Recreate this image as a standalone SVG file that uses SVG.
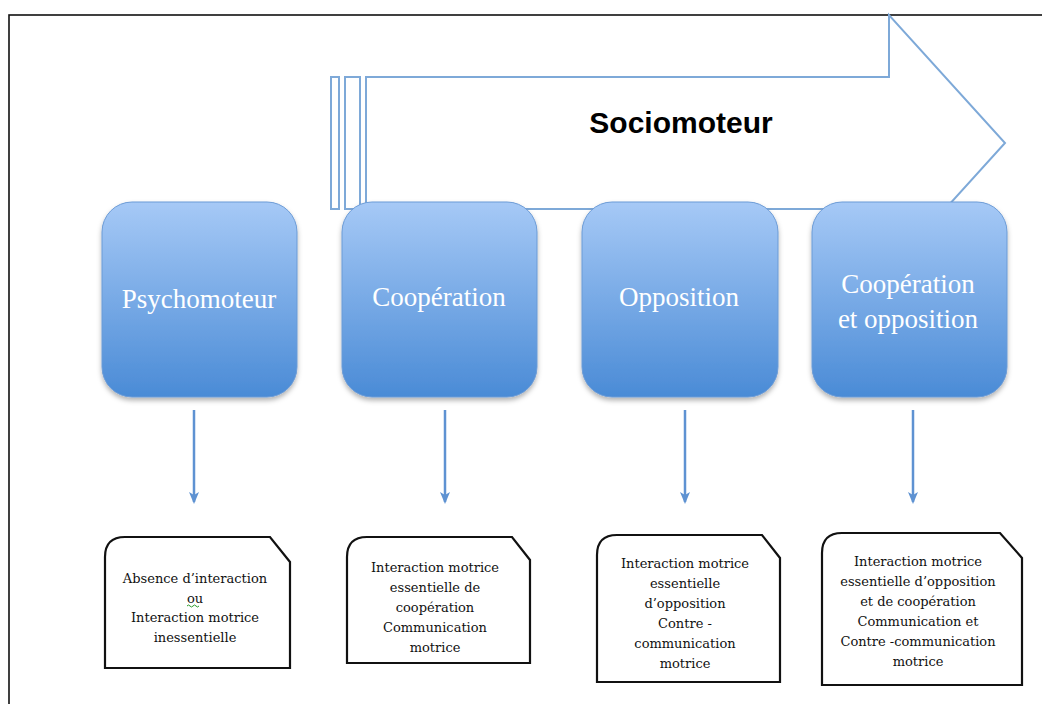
<svg xmlns="http://www.w3.org/2000/svg" width="1042" height="704" viewBox="0 0 1042 704">
<style>
.frame{fill:none;stroke:#111;stroke-width:1.6}
.big{fill:#fff;stroke:#7ea9d8;stroke-width:2}
.box{fill:url(#g);stroke:#6b9bd6;stroke-width:1;filter:url(#sh)}
.bt{font-family:"Liberation Serif",serif;font-size:27px;fill:#fff;text-anchor:middle}
.note{fill:#fff;stroke:#111;stroke-width:2.2}
.nt{font-family:"DejaVu Serif",serif;font-size:13px;fill:#111;text-anchor:middle}
.conn{stroke:#5e92d2;stroke-width:2.5;fill:none;marker-end:url(#ah)}
.title{font-family:"Liberation Sans",Arial,sans-serif;font-size:30px;font-weight:bold;fill:#000;text-anchor:middle}
</style>
<defs>
<linearGradient id="g" x1="0" y1="0" x2="0" y2="1">
<stop offset="0" stop-color="#a6c9f6"/>
<stop offset="1" stop-color="#4a8bd6"/>
</linearGradient>
<filter id="sh" x="-10%" y="-10%" width="120%" height="125%">
<feDropShadow dx="0" dy="3" stdDeviation="2.5" flood-color="#000" flood-opacity="0.3"/>
</filter>
<marker id="ah" markerWidth="12" markerHeight="12" refX="10" refY="6" orient="auto" markerUnits="userSpaceOnUse" viewBox="0 0 12 12">
<path d="M0,1 L12,6 L0,11 L3,6 Z" fill="#5e92d2"/>
</marker>
</defs>
<rect class="frame" x="9" y="15" width="1040" height="700"/>
<g id="sociomoteur">
<rect class="big" x="331" y="77" width="8" height="132"/>
<rect class="big" x="345" y="77" width="15" height="132"/>
<path class="big" d="M366,77 H889 V15 L1005,143 L889,271 V209 H366 Z"/>
<text class="title" x="681" y="133">Sociomoteur</text>
</g>
<g id="connectors">
<line class="conn" x1="194" y1="410" x2="194" y2="502"/>
<line class="conn" x1="445" y1="410" x2="445" y2="502"/>
<line class="conn" x1="685" y1="410" x2="685" y2="502"/>
<line class="conn" x1="913" y1="410" x2="913" y2="502"/>
</g>
<g id="psychomoteur">
<rect class="box" x="102" y="202" width="195" height="195" rx="30"/>
<text class="bt" x="199" y="308">Psychomoteur</text>
</g>
<g id="cooperation">
<rect class="box" x="342" y="202" width="195" height="195" rx="30"/>
<text class="bt" x="439" y="306">Coopération</text>
</g>
<g id="opposition">
<rect class="box" x="582" y="202" width="196" height="195" rx="30"/>
<text class="bt" x="679" y="306">Opposition</text>
</g>
<g id="cooperation-opposition">
<rect class="box" x="812" y="202" width="195" height="195" rx="30"/>
<text class="bt" x="908" y="293">Coopération</text>
<text class="bt" x="908" y="328">et opposition</text>
</g>
<g id="note1">
<path class="note" d="M105,668 V557 Q105,537 125,537 H270 L290,562 V668 Z"/>
<text class="nt" x="195" y="583">Absence d’interaction</text>
<text class="nt" x="195" y="603">ou</text>
<path d="M187,606 q1.5,-2 3,0 t3,0 t3,0 t3,0" fill="none" stroke="#2a9a2a" stroke-width="1"/>
<text class="nt" x="195" y="622">Interaction motrice</text>
<text class="nt" x="195" y="642">inessentielle</text>
</g>
<g id="note2">
<path class="note" d="M347,663 V557 Q347,537 367,537 H512 L530,560 V663 Z"/>
<text class="nt" x="435" y="572">Interaction motrice</text>
<text class="nt" x="435" y="592">essentielle de</text>
<text class="nt" x="435" y="612">coopération</text>
<text class="nt" x="435" y="632">Communication</text>
<text class="nt" x="435" y="652">motrice</text>
</g>
<g id="note3">
<path class="note" d="M597,682 V555 Q597,535 617,535 H762 L780,558 V682 Z"/>
<text class="nt" x="685" y="568">Interaction motrice</text>
<text class="nt" x="685" y="588">essentielle</text>
<text class="nt" x="685" y="608">d’opposition</text>
<text class="nt" x="685" y="628">Contre -</text>
<text class="nt" x="685" y="648">communication</text>
<text class="nt" x="685" y="668">motrice</text>
</g>
<g id="note4">
<path class="note" d="M822,685 V553 Q822,533 842,533 H1000 L1022,558 V685 Z"/>
<text class="nt" x="918" y="566">Interaction motrice</text>
<text class="nt" x="918" y="586">essentielle d’opposition</text>
<text class="nt" x="918" y="606">et de coopération</text>
<text class="nt" x="918" y="626">Communication et</text>
<text class="nt" x="918" y="646">Contre -communication</text>
<text class="nt" x="918" y="666">motrice</text>
</g>
</svg>
